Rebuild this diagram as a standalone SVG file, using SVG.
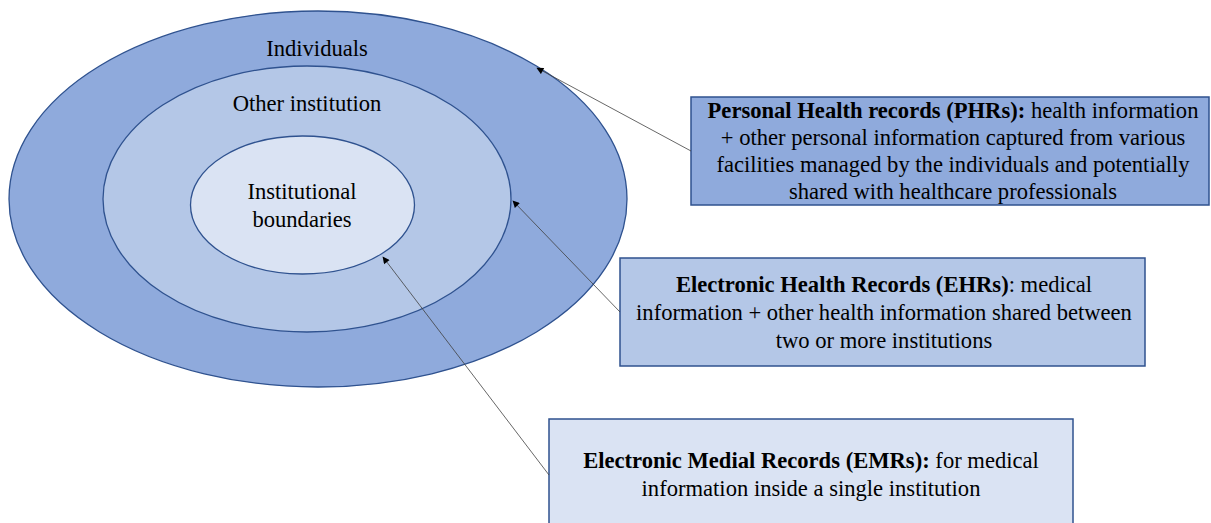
<svg xmlns="http://www.w3.org/2000/svg" width="1211" height="523" viewBox="0 0 1211 523">
<style>
text{font-family:'Liberation Serif','Tinos','DejaVu Serif',serif;font-size:22.6px;fill:#000;text-anchor:middle}
.b{font-weight:bold}
.ell{stroke:#2f528f;stroke-width:1.3}
.box{stroke:#2f528f;stroke-width:1.5}
.con{stroke:#404040;stroke-width:0.8;fill:none;marker-end:url(#ah)}
</style>
<defs>
<marker id="ah" viewBox="0 0 10 10" refX="9" refY="5" markerWidth="10" markerHeight="7" markerUnits="userSpaceOnUse" orient="auto">
<path d="M0,0 L10,5 L0,10 z" fill="#000"/>
</marker>
</defs>
<rect width="1211" height="523" fill="#fff"/>
<g id="individuals">
<ellipse class="ell" cx="318" cy="199" rx="309" ry="188" fill="#8faadc"/>
<text x="317" y="56">Individuals</text>
</g>
<g id="other-institution">
<ellipse class="ell" cx="307" cy="199" rx="204" ry="133" fill="#b4c7e7"/>
<text x="307" y="111">Other institution</text>
</g>
<g id="institutional-boundaries">
<ellipse class="ell" cx="302.5" cy="205" rx="112" ry="69" fill="#dae3f3"/>
<text x="302" y="199">Institutional</text>
<text x="302" y="227">boundaries</text>
</g>
<g id="phr">
<rect class="box" x="691" y="97" width="518" height="108" fill="#8faadc"/>
<text x="953" y="118"><tspan class="b">Personal Health records (PHRs):</tspan> health information</text>
<text x="953" y="145">+ other personal information captured from various</text>
<text x="953" y="172">facilities managed by the individuals and potentially</text>
<text x="953" y="199">shared with healthcare professionals</text>
</g>
<g id="ehr">
<rect class="box" x="620" y="258" width="525" height="108" fill="#b4c7e7"/>
<text x="884" y="292"><tspan class="b">Electronic Health Records (EHRs)</tspan>: medical</text>
<text x="884" y="320">information + other health information shared between</text>
<text x="884" y="348">two or more institutions</text>
</g>
<g id="emr">
<rect class="box" x="549" y="419" width="524" height="110" fill="#dae3f3"/>
<text x="811" y="468"><tspan class="b">Electronic Medial Records (EMRs):</tspan> for medical</text>
<text x="811" y="496">information inside a single institution</text>
</g>
<g id="connectors">
<line class="con" x1="691" y1="151" x2="537" y2="68"/>
<line class="con" x1="620" y1="312" x2="513" y2="201"/>
<line class="con" x1="549" y1="475" x2="383" y2="257"/>
</g>
</svg>
